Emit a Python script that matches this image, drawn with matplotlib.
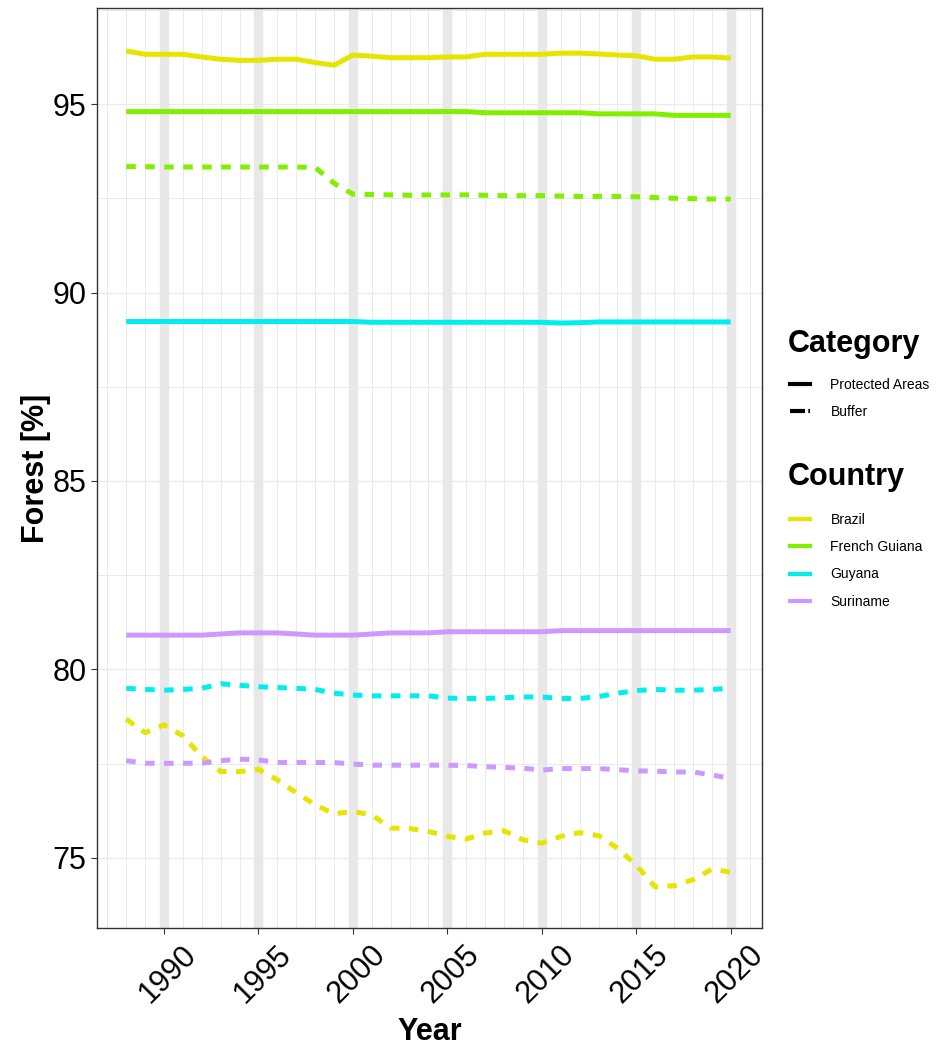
import matplotlib
matplotlib.use("Agg")
import matplotlib.pyplot as plt
import matplotlib.transforms as mtransforms
from matplotlib.lines import Line2D
import numpy as np

plt.rcParams["font.family"] = ["Liberation Sans", "DejaVu Sans"]

years = list(range(1988, 2021))

# Protected areas (solid)
brazil_pa = [96.41, 96.32, 96.32, 96.32, 96.25, 96.19, 96.16, 96.16, 96.19, 96.19,
             96.10, 96.03, 96.30, 96.27, 96.23, 96.23, 96.23, 96.25, 96.25, 96.32,
             96.32, 96.32, 96.32, 96.35, 96.35, 96.33, 96.30, 96.28, 96.19, 96.19,
             96.25, 96.25, 96.22]
fguiana_pa = [94.80] * 19 + [94.77] * 6 + [94.74] * 4 + [94.70] * 4
guyana_pa = [89.23] * 13 + [89.21] * 10 + [89.19, 89.20] + [89.22] * 8
suriname_pa = [80.91, 80.91, 80.91, 80.91, 80.91, 80.94, 80.97, 80.97, 80.97, 80.94,
               80.91, 80.91, 80.91, 80.94, 80.97, 80.97, 80.97, 81.00, 81.00, 81.00,
               81.00, 81.00, 81.00, 81.03, 81.03, 81.03, 81.03, 81.03, 81.03, 81.03,
               81.03, 81.03, 81.03]

# Buffer zones (dashed)
brazil_buf = [78.68, 78.32, 78.53, 78.24, 77.69, 77.29, 77.29, 77.35, 77.07, 76.73,
              76.41, 76.17, 76.23, 76.14, 75.79, 75.78, 75.70, 75.57, 75.50, 75.66,
              75.72, 75.48, 75.39, 75.57, 75.67, 75.59, 75.26, 74.81, 74.23, 74.26,
              74.42, 74.70, 74.62]
fguiana_buf = [93.34, 93.34, 93.33, 93.33, 93.33, 93.33, 93.33, 93.33, 93.33, 93.33,
               93.32, 92.90, 92.61, 92.60, 92.59, 92.58, 92.59, 92.59, 92.59, 92.58,
               92.57, 92.57, 92.57, 92.56, 92.55, 92.55, 92.55, 92.54, 92.52, 92.50,
               92.49, 92.48, 92.48]
guyana_buf = [79.50, 79.47, 79.45, 79.47, 79.50, 79.62, 79.58, 79.54, 79.52, 79.50,
              79.47, 79.37, 79.32, 79.30, 79.30, 79.30, 79.30, 79.24, 79.23, 79.23,
              79.25, 79.27, 79.27, 79.23, 79.23, 79.28, 79.37, 79.44, 79.47, 79.45,
              79.45, 79.47, 79.50]
suriname_buf = [77.58, 77.51, 77.51, 77.51, 77.51, 77.58, 77.62, 77.60, 77.53, 77.53,
                77.53, 77.53, 77.49, 77.46, 77.46, 77.46, 77.46, 77.46, 77.45, 77.42,
                77.40, 77.38, 77.33, 77.37, 77.37, 77.37, 77.34, 77.31, 77.30, 77.28,
                77.28, 77.20, 77.11]

countries = ["Brazil", "French Guiana", "Guyana", "Suriname"]
categories = ["Protected Areas", "Buffer"]
colors = ["#E5E500", "#80F000", "#00EEEE", "#CC99FF"]
protected = [brazil_pa, fguiana_pa, guyana_pa, suriname_pa]
buffer = [brazil_buf, fguiana_buf, guyana_buf, suriname_buf]

fig = plt.figure(figsize=(9.36, 10.46), dpi=100)
ax = fig.add_axes([0.1036, 0.1128, 0.7104, 0.8796])

# grid: minor lines every year, light horizontal lines
for yr in range(1987, 2022):
    ax.axvline(yr, color="#EBEBEB", lw=0.7, zorder=0)
for yv in np.arange(75, 97.6, 2.5):
    ax.axhline(yv, color="#EBEBEB", lw=1.0 if yv % 5 == 0 else 0.7, zorder=0)
# thick bands every five years
for yr in range(1990, 2021, 5):
    ax.axvline(yr, color="#E8E8E8", lw=6.8, zorder=0.5)

for vals, col in zip(protected, colors):
    ax.plot(years, vals, color=col, lw=3.6, solid_capstyle="butt", zorder=2)
for vals, col in zip(buffer, colors):
    ax.plot(years, vals, color=col, lw=3.6, dashes=(1.9, 1.9),
            dash_capstyle="butt", zorder=2)

ax.set_xlim(1986.45, 2021.65)
ax.set_ylim(73.14, 97.55)
ax.set_xticks(range(1990, 2021, 5))
ax.set_yticks([75, 80, 85, 90, 95])
ax.tick_params(axis="both", labelsize=22, length=4, color="#333333", width=0.8,
               labelcolor="black")
shift = mtransforms.ScaledTranslation(4 / 100, -1 / 100, fig.dpi_scale_trans)
for lab in ax.get_xticklabels():
    lab.set_rotation(45)
    lab.set_ha("center")
    lab.set_va("top")
    lab.set_transform(lab.get_transform() + shift)
for sp in ax.spines.values():
    sp.set_color("#333333")
    sp.set_linewidth(1.0)

ax.set_xlabel("Year", fontsize=22, fontweight="bold", labelpad=6)
ax.set_ylabel("Forest [%]", fontsize=22, fontweight="bold", labelpad=1)

# legends (titles drawn separately for ggplot-like spacing)
fig.text(0.8419, 0.6711, "Category", fontsize=22, fontweight="bold", va="center", ha="left")
cat_handles = [Line2D([], [], color="black", lw=3),
               Line2D([], [], color="black", lw=3, dashes=(3.6, 0.8))]
fig.legend(cat_handles, categories, loc="upper left", bbox_to_anchor=(0.8435, 0.6385),
           frameon=False, fontsize=10, handlelength=1.5, handletextpad=1.45,
           labelspacing=0.95, borderaxespad=0, borderpad=0)

fig.text(0.8419, 0.5440, "Country", fontsize=22, fontweight="bold", va="center", ha="left")
col_handles = [Line2D([], [], color=c, lw=3) for c in colors]
fig.legend(col_handles, countries, loc="upper left", bbox_to_anchor=(0.8435, 0.5095),
           frameon=False, fontsize=10, handlelength=1.5, handletextpad=1.45,
           labelspacing=0.95, borderaxespad=0, borderpad=0)

fig.savefig("out.png", dpi=100)
